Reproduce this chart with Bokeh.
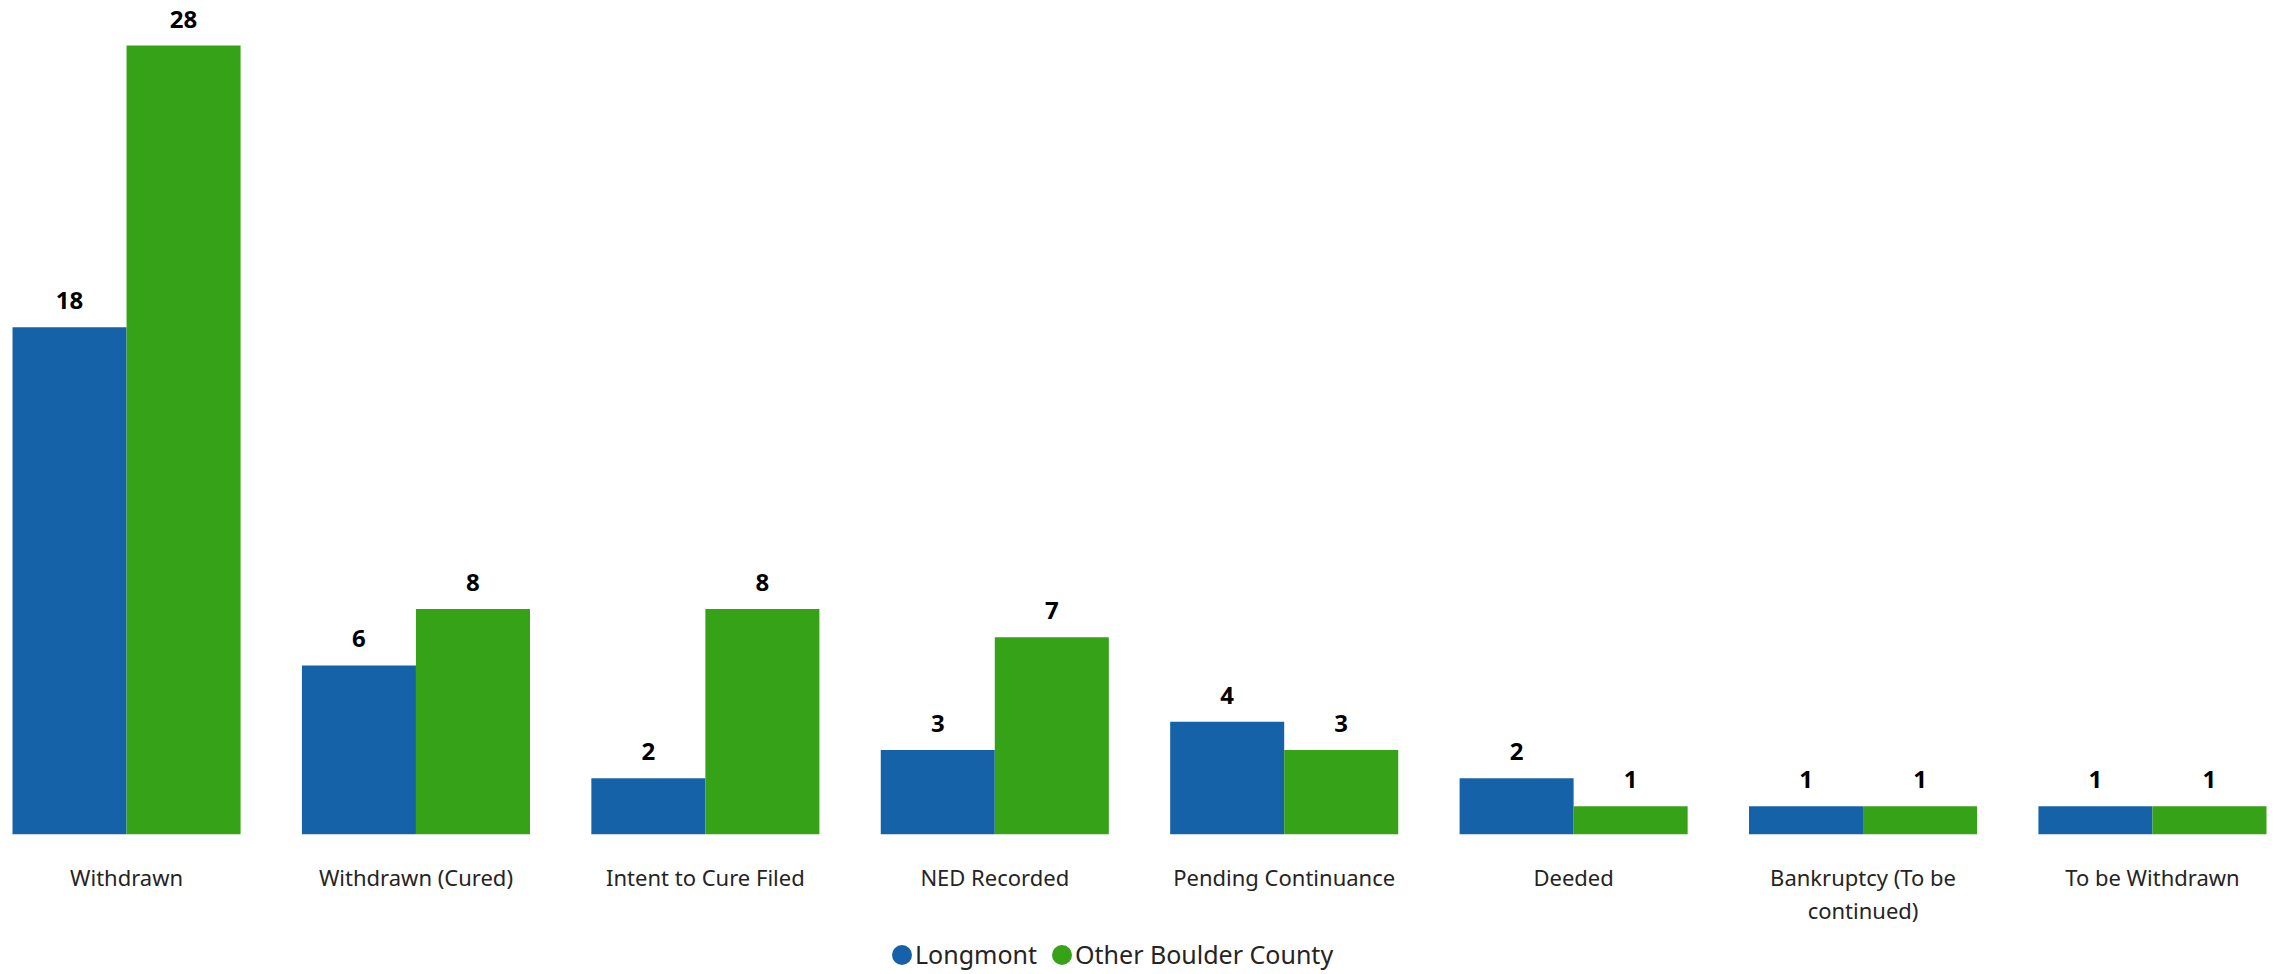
from bokeh.plotting import figure
from bokeh.layouts import column
from bokeh.models import ColumnDataSource, FactorRange, Range1d, LabelSet, Legend, LegendItem
from bokeh.core.properties import value
from bokeh.transform import dodge
from bokeh.embed import file_html
from bokeh.resources import INLINE

categories = ["Withdrawn", "Withdrawn (Cured)", "Intent to Cure Filed", "NED Recorded",
              "Pending Continuance", "Deeded", "Bankruptcy (To be\ncontinued)", "To be Withdrawn"]
longmont = [18, 6, 2, 3, 4, 2, 1, 1]
other_boulder = [28, 8, 8, 7, 3, 1, 1, 1]
series_names = ["Longmont", "Other Boulder County"]
colors = ["#1662A8", "#36A218"]

FONT = "Noto Sans"

src = ColumnDataSource(dict(cat=categories, a=longmont, b=other_boulder,
                            a_lbl=[str(v) for v in longmont], b_lbl=[str(v) for v in other_boulder]))

x_range = FactorRange(*categories, range_padding=-0.0645, range_padding_units="absolute")
p = figure(x_range=x_range, y_range=Range1d(0, 29.6), width=2278, height=930,
           output_backend="svg", toolbar_location=None,
           min_border_left=0, min_border_right=0, min_border_top=0, min_border_bottom=96)
p.outline_line_color = None
p.grid.visible = False
p.yaxis.visible = False
p.xaxis.axis_line_color = None
p.xaxis.major_tick_line_color = None
p.xaxis.minor_tick_line_color = None
p.xaxis.major_label_text_font = FONT
p.xaxis.major_label_text_font_size = "22px"
p.xaxis.major_label_text_color = "#252423"
p.xaxis.major_label_standoff = 21
p.xaxis.major_label_text_line_height = 1.1

bw = 0.394
p.vbar(x=dodge("cat", -bw / 2, range=x_range), top="a", width=bw, source=src,
       fill_color=colors[0], line_color=None)
p.vbar(x=dodge("cat", bw / 2, range=x_range), top="b", width=bw, source=src,
       fill_color=colors[1], line_color=None)

for col, lbl, off in (("a", "a_lbl", -bw / 2), ("b", "b_lbl", bw / 2)):
    ls = LabelSet(x=dodge("cat", off, range=x_range), y=col, text=lbl, source=src,
                  y_offset=18, text_align="center", text_baseline="bottom",
                  text_font=value(FONT), text_font_style="bold", text_font_size="24px",
                  text_color="#000000")
    p.add_layout(ls)

# legend strip
lg = figure(width=2278, height=44, output_backend="svg", toolbar_location=None,
            x_range=Range1d(0, 1), y_range=Range1d(0, 1),
            x_axis_location=None, y_axis_location=None,
            min_border_left=0, min_border_right=0, min_border_top=0, min_border_bottom=0)
lg.outline_line_color = None
lg.grid.visible = False
d1 = lg.ellipse(x=[-10], y=[-10], width=20, height=20, width_units="screen", height_units="screen",
                fill_color=colors[0], line_color=None)
d2 = lg.ellipse(x=[-10], y=[-10], width=20, height=20, width_units="screen", height_units="screen",
                fill_color=colors[1], line_color=None)
legend = Legend(items=[LegendItem(label=series_names[0], renderers=[d1], index=0),
                       LegendItem(label=series_names[1], renderers=[d2], index=0)],
                orientation="horizontal", location=(889, 3),
                label_text_font=FONT, label_text_font_size="25px", label_text_color="#252423",
                label_height=30, glyph_width=25, glyph_height=25, label_standoff=1, spacing=12,
                padding=0, margin=0, border_line_color=None, background_fill_alpha=0)
lg.add_layout(legend, "center")

layout = column(p, lg, spacing=0)
open("out.html", "w").write(file_html(layout, INLINE))
